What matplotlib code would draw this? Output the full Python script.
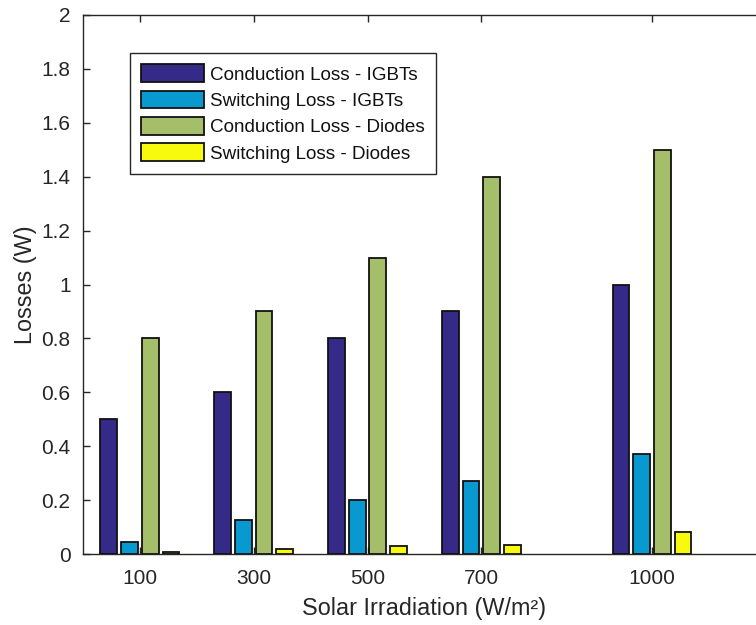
import numpy as np
import matplotlib
matplotlib.use("Agg")
import matplotlib.pyplot as plt

plt.rcParams['font.family'] = ['Liberation Sans', 'DejaVu Sans']

# Irradiation levels (W/m^2) and loss components (W)
irradiation = [100, 300, 500, 700, 1000]
cond_igbt = [0.5, 0.6, 0.8, 0.9, 1.0]
sw_igbt = [0.045, 0.125, 0.2, 0.27, 0.372]
cond_diode = [0.8, 0.9, 1.1, 1.4, 1.5]
sw_diode = [0.008, 0.019, 0.028, 0.033, 0.081]

series = [
    ("Conduction Loss - IGBTs", cond_igbt, "#352A87"),
    ("Switching Loss - IGBTs", sw_igbt, "#0799CF"),
    ("Conduction Loss - Diodes", cond_diode, "#A5BE6A"),
    ("Switching Loss - Diodes", sw_diode, "#F8FA0D"),
]

fig = plt.figure(figsize=(7.56, 6.25), dpi=100)
ax = fig.add_axes([0.1098, 0.1136, 0.9032, 0.8624])

x = np.array(irradiation, dtype=float)
step = 36.4
width = 29.5
offsets = (np.arange(len(series)) - 1.5) * step
for (label, vals, color), off in zip(series, offsets):
    ax.bar(x + off, vals, width=width, color=color, edgecolor="#111111",
           linewidth=1.3, label=label, zorder=3)

ax.set_xlim(0, 1200)
ax.set_ylim(0, 2)
ax.set_xticks(irradiation)
ax.set_yticks(np.arange(0, 2.01, 0.2))
ax.set_yticklabels(["0", "0.2", "0.4", "0.6", "0.8", "1", "1.2", "1.4", "1.6", "1.8", "2"])

edge = "#262626"
for s in ax.spines.values():
    s.set_color(edge)
    s.set_linewidth(1.0)
ax.tick_params(direction="in", length=5, width=1.0, colors=edge,
               labelsize=15, top=True, right=True, labelcolor=edge)
ax.tick_params(axis="x", pad=11)
ax.tick_params(axis="y", pad=9)

ax.set_xlabel("Solar Irradiation (W/m²)", fontsize=16.8, color=edge, labelpad=6)
ax.set_ylabel("Losses (W)", fontsize=16.8, color=edge, labelpad=3)

leg = ax.legend(loc="upper left", bbox_to_anchor=(0.069, 0.9295),
                borderaxespad=0, fontsize=13.6, frameon=True, fancybox=False,
                handlelength=3.3, handleheight=1.05, labelspacing=0.38,
                handletextpad=0.32, borderpad=0.6)
leg.get_frame().set_edgecolor(edge)
leg.get_frame().set_linewidth(1.0)
leg.get_frame().set_alpha(1)
for t in leg.get_texts():
    t.set_color("#111111")

fig.savefig("out.png", dpi=100)
